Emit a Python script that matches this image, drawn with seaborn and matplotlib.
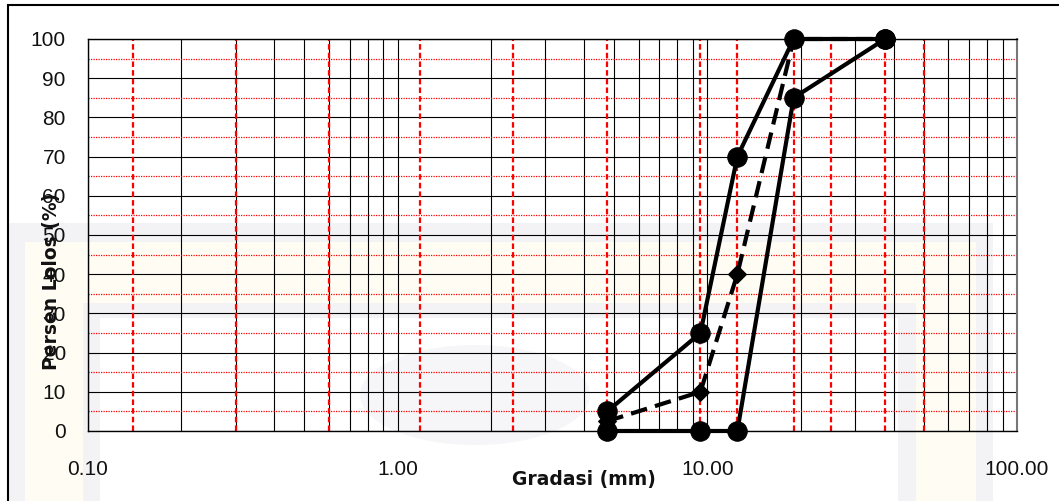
import matplotlib
matplotlib.use("Agg")
import matplotlib.pyplot as plt
import matplotlib.ticker as mticker
from matplotlib.patches import Rectangle, Ellipse
import seaborn as sns
import pandas as pd

# data
sieve_mm = [4.75, 9.5, 12.5, 19.0, 37.5]
batas_atas = [5, 25, 70, 100, 100]
batas_bawah = [0, 0, 0, 85, 100]
gradasi = [2.5, 10, 40, 100, 100]
sieve_lines = [0.14, 0.3, 0.6, 1.18, 2.36, 4.75, 9.5, 12.5, 19.0, 25.0, 37.5, 50.0]
x_ticks = [0.1, 1, 10, 100]
x_ticklabels = ["0.10", "1.00", "10.00", "100.00"]

sns.set_style("white")
plt.rcParams['font.family'] = ['Liberation Sans', 'DejaVu Sans']

W, H = 1059, 501
fig = plt.figure(figsize=(W / 100, H / 100), dpi=100)
fig.patch.set_facecolor("white")


def px_rect(x0, y0, x1, y1, color):
    return Rectangle((x0 / W, 1 - y1 / H), (x1 - x0) / W, (y1 - y0) / H,
                     transform=fig.transFigure, facecolor=color,
                     edgecolor="none", zorder=-2)


# faint watermark behind the chart
fig.patches.append(px_rect(8, 223, 993, 501, "#f3f3f5"))
fig.patches.append(px_rect(25, 242, 976, 501, "#fffdf3"))
fig.patches.append(px_rect(83, 303, 916, 501, "#f3f3f5"))
fig.patches.append(px_rect(100, 318, 898, 501, "white"))
fig.patches.append(Ellipse((475 / W, 1 - 395 / H), 230 / W, 100 / H,
                           transform=fig.transFigure, facecolor="#f6f6f8",
                           edgecolor="none", zorder=-1))

# outer frame
fig.patches.append(Rectangle((8 / W, -0.1), 1.2, 1 - 5 / H + 0.1,
                             transform=fig.transFigure, fill=False,
                             edgecolor="black", lw=1.5, zorder=5))

ax = fig.add_axes([88 / W, 1 - 431 / H, 929 / W, 392 / H])
ax.set_facecolor("none")

df = pd.DataFrame({"ukuran": sieve_mm, "atas": batas_atas,
                   "bawah": batas_bawah, "gradasi": gradasi})

sns.lineplot(data=df, x="ukuran", y="atas", ax=ax, color="black", lw=3,
             marker="o", markersize=14, markeredgecolor="black", sort=False,
             legend=False, zorder=4)
sns.lineplot(data=df, x="ukuran", y="bawah", ax=ax, color="black", lw=3,
             marker="o", markersize=14, markeredgecolor="black", sort=False,
             legend=False, zorder=4)
sns.lineplot(data=df, x="ukuran", y="gradasi", ax=ax, color="black", lw=3,
             marker="D", markersize=9, markeredgecolor="black", sort=False,
             legend=False, zorder=3, dashes=False)
ax.lines[-1].set_linestyle((0, (4, 2)))
for ln in ax.lines:
    ln.set_clip_on(False)

for s in sieve_lines:
    ax.axvline(s, color="red", lw=1.6, ls=(0, (2.5, 1.4)), zorder=1)

ax.set_xscale("log")
ax.set_xlim(0.1, 100)
ax.set_ylim(0, 100)
ax.xaxis.set_major_locator(mticker.FixedLocator(x_ticks))
ax.xaxis.set_major_formatter(mticker.FixedFormatter(x_ticklabels))
ax.xaxis.set_minor_locator(mticker.LogLocator(base=10, subs=range(2, 10)))
ax.xaxis.set_minor_formatter(mticker.NullFormatter())
ax.yaxis.set_major_locator(mticker.MultipleLocator(10))
ax.yaxis.set_minor_locator(mticker.MultipleLocator(5))

ax.set_axisbelow(True)
ax.xaxis.grid(True, which="both", color="black", lw=0.8)
ax.yaxis.grid(True, which="major", color="black", lw=0.8)
ax.yaxis.grid(True, which="minor", color="red", lw=0.9, ls=(0, (1, 1)))

ax.tick_params(axis="both", which="major", direction="out", length=6,
               width=0.9, color="black", labelsize=15, labelcolor="#111111")
ax.tick_params(axis="y", which="major", pad=10)
ax.tick_params(axis="x", which="major", pad=15)
ax.tick_params(axis="x", which="minor", length=0)
ax.tick_params(axis="y", which="minor", direction="in", length=5, width=0.9)

for side in ["left", "bottom", "top"]:
    ax.spines[side].set_color("black")
    ax.spines[side].set_linewidth(1)
ax.spines["right"].set_color("#777777")
ax.spines["right"].set_linewidth(1.5)

ax.set_xlabel("")
ax.set_ylabel("")
fig.text(584 / W, 1 - 480 / H, "Gradasi (mm)", ha="center", va="center",
         fontsize=13.5, fontweight="bold", family="DejaVu Sans", color="#111111")
fig.text(52 / W, 1 - 281 / H, "Persen Lolos (%)", ha="center", va="center",
         rotation=90, fontsize=13.5, fontweight="bold", family="DejaVu Sans",
         color="#111111")

fig.savefig("out.png", dpi=100)
